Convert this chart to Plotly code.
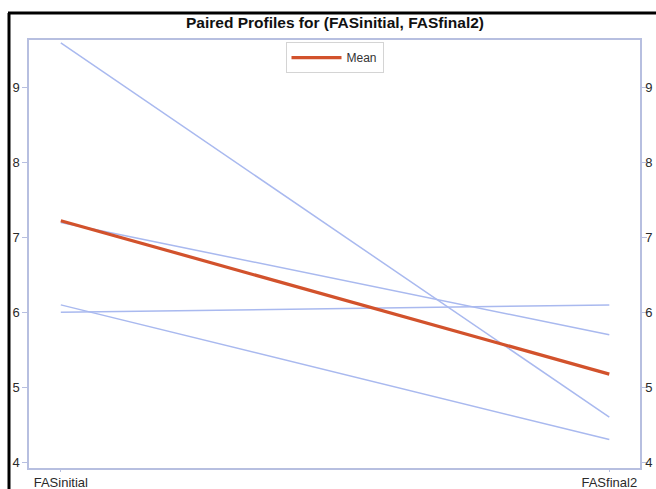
import plotly.graph_objects as go

categories = ["FASinitial", "FASfinal2"]
subjects = [
    [9.6, 4.6],
    [7.2, 5.7],
    [6.0, 6.1],
    [6.1, 4.3],
]
mean_values = [
    sum(s[0] for s in subjects) / len(subjects),
    sum(s[1] for s in subjects) / len(subjects),
]
y_ticks = [4, 5, 6, 7, 8, 9]

fig = go.Figure()
for s in subjects:
    fig.add_trace(go.Scatter(
        x=categories, y=s, mode="lines",
        line=dict(color="#a9b9ef", width=1.5),
        showlegend=False, hoverinfo="skip",
    ))
fig.add_trace(go.Scatter(
    x=categories, y=mean_values, mode="lines", name="Mean",
    line=dict(color="#d2522c", width=3.2),
))
# invisible trace to activate the right axis
fig.add_trace(go.Scatter(
    x=categories, y=mean_values, mode="lines", yaxis="y2",
    line=dict(color="rgba(0,0,0,0)", width=0), showlegend=False, hoverinfo="skip",
))

axis_line = "#b7bfe0"
tick_font = dict(family="Liberation Sans, Arial", size=13, color="#2a2a2a")
yr = [3.92, 9.64]

fig.update_layout(
    width=656, height=489,
    margin=dict(l=29, r=16, t=40, b=21, autoexpand=False),
    paper_bgcolor="white", plot_bgcolor="white",
    title=dict(
        text="<b>Paired Profiles for (FASinitial, FASfinal2)</b>",
        x=335 / 656, xanchor="center", y=1 - 23 / 489, yanchor="middle",
        font=dict(family="Liberation Sans, Arial", size=15.5, color="#111"),
    ),
    legend=dict(
        x=0.5, xanchor="center", y=0.995, yanchor="top",
        bordercolor="#d4d4d4", borderwidth=1, bgcolor="white",
        font=dict(family="Liberation Sans, Arial", size=12, color="#333"),
        itemwidth=50,
    ),
    xaxis=dict(
        type="category", range=[-0.058, 1.056], automargin=False,
        showgrid=False, zeroline=False,
        showline=True, mirror=True, linecolor=axis_line, linewidth=1.5,
        ticks="outside", ticklen=2, tickcolor=axis_line,
        tickfont=tick_font, ticklabeloverflow="allow",
    ),
    yaxis=dict(
        range=yr, tickvals=y_ticks, automargin=False,
        showgrid=False, zeroline=False,
        showline=True, linecolor=axis_line, linewidth=1.5,
        ticks="outside", ticklen=5, tickcolor=axis_line,
        tickfont=tick_font, ticklabeloverflow="allow",
    ),
    yaxis2=dict(
        range=yr, tickvals=y_ticks, overlaying="y", side="right", automargin=False,
        showgrid=False, zeroline=False,
        showline=True, linecolor=axis_line, linewidth=1.5,
        ticks="outside", ticklen=5, tickcolor=axis_line,
        tickfont=tick_font, ticklabeloverflow="allow",
        ticklabelstandoff=-4,
    ),
    shapes=[
        dict(type="line", xref="paper", yref="paper",
             x0=(9 - 29) / 611, x1=(9 - 29) / 611, y0=-0.1, y1=1 + 27 / 428,
             line=dict(color="black", width=3)),
        dict(type="line", xref="paper", yref="paper",
             x0=(8 - 29) / 611, x1=1.1, y0=1 + 27 / 428, y1=1 + 27 / 428,
             line=dict(color="black", width=3)),
    ],
)

fig.write_html(
    "out.html",
    config={"displayModeBar": False},
    post_script="document.body.style.margin='0';document.body.style.overflow='hidden';",
)
